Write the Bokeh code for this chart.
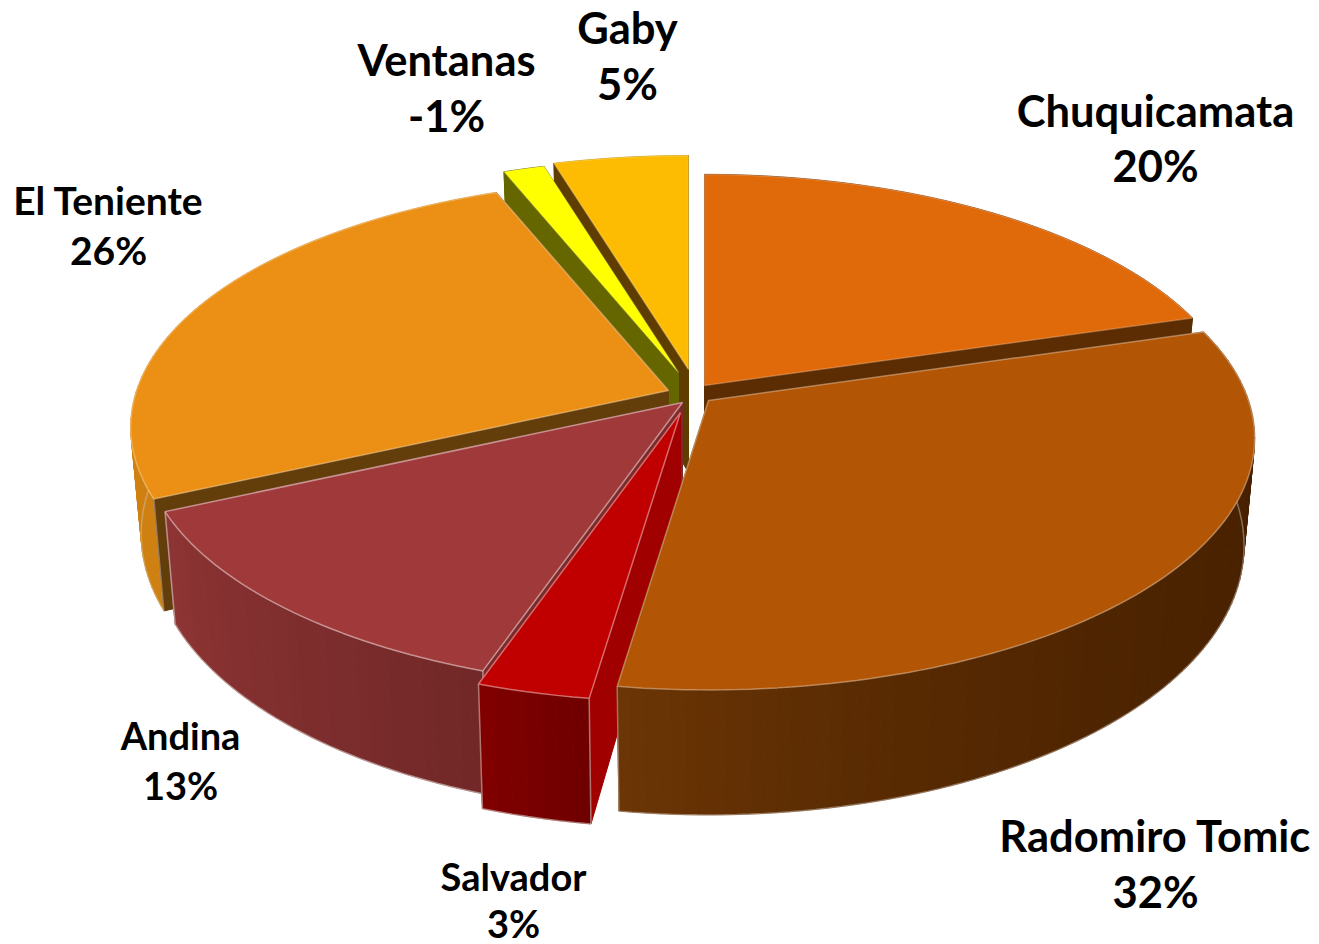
from bokeh.plotting import figure
from bokeh.models import ColumnDataSource, Range1d
from bokeh.core.properties import value
from bokeh.embed import file_html
from bokeh.resources import INLINE
import numpy as np

# ---- data
divisions = ["Chuquicamata", "Radomiro Tomic", "Salvador", "Andina", "El Teniente", "Ventanas", "Gaby"]
shares = [20.3, 32.0, 2.9, 12.9, 25.9, 1.4, 4.6]
share_labels = ["20%", "32%", "3%", "13%", "26%", "-1%", "5%"]

# ---- style
top_colors = ["#E0690A", "#B25606", "#C00000", "#A03A3A", "#EB9015", "#FFFF00", "#FDBB02"]
wall_start = ["#5C2C02", "#482100", "#700000", "#722828", "#CF8012", "#666600", "#B88A02"]
wall_end = ["#5C2C02", "#6B3505", "#800000", "#8E3434", "#CF8012", "#666600", "#B88A02"]
wall_power = [1, 3, 1, 1, 1, 1, 1]
radial_colors = ["#5C2C02", "#5C2C02", "#A00000", "#7A2A2A", "#633D0A", "#666600", "#5F3C00"]
edge_alpha = [0.35, 0.55, 0.7, 0.75, 0.5, 0.2, 0.35]
apex_x = [704, 708, 680, 682, 668, 678, 688]
apex_y = [385, 400, 412, 402, 390, 372, 369]
radius = [0.985, 1.0, 1.0, 0.99, 0.985, 1.0, 1.0]
draw_order = [6, 5, 0, 4, 3, 2, 1]
label_x = [1155, 1155, 513, 180, 108, 446, 627]
label_y = [109, 834, 875, 734, 199, 58, 26]
label_gap = [55, 56, 47, 50, 50, 56, 56]
label_px = [43.5, 43.5, 38, 38, 39, 43.5, 43.5]

A, B, K = 540.0, 246.0, 0.15


def hex2rgb(h):
    return np.array([int(h[i:i + 2], 16) for i in (1, 3, 5)], float)


def mix(c1, c2, t):
    r = hex2rgb(c1) * (1 - t) + hex2rgb(c2) * t
    return "#%02x%02x%02x" % tuple(int(round(x)) for x in r)


def rim(theta, ax, ay, s):
    u, v = s * np.sin(theta), s * np.cos(theta)
    d = 1 + K * v
    return ax + A * u / d, ay - B * v / d


def drop(x, y, cx):
    return x - 0.0195 * (x - cx), y + 104.8 + 0.0686 * (y - 395)


edges = np.cumsum([0] + shares) / sum(shares) * 2 * np.pi

p = figure(width=1319, height=944, output_backend="svg", toolbar_location=None,
           x_range=Range1d(0, 1319), y_range=Range1d(944, 0), min_border=0,
           outline_line_color=None, background_fill_color="white")
p.axis.visible = False
p.grid.visible = False

for i in draw_order:
    ax, ay = apex_x[i], apex_y[i]
    th = np.linspace(edges[i], edges[i + 1], max(8, int(shares[i] * 3)))
    rx, ry = rim(th, ax, ay, radius[i])
    bx, by = drop(rx, ry, ax)
    abx, aby = drop(np.array([ax], float), np.array([ay], float), ax)

    rad_x, rad_y, rad_c = [], [], []
    for j in (0, -1):
        rad_x.append([ax, rx[j], bx[j], abx[0]])
        rad_y.append([ay, ry[j], by[j], aby[0]])
        rad_c.append(radial_colors[i])

    out_x, out_y, out_c = [], [], []
    for j in range(len(th) - 1):
        t = (j / (len(th) - 2)) ** wall_power[i]
        out_x.append([rx[j], rx[j + 1], bx[j + 1], bx[j]])
        out_y.append([ry[j], ry[j + 1], by[j + 1], by[j]])
        out_c.append(mix(wall_start[i], wall_end[i], t))

    # back slices show their radial faces in front of the (hidden) outer wall
    mid = 0.5 * (edges[i] + edges[i + 1])
    if np.cos(mid) > 0:
        xs, ys, fills = out_x + rad_x, out_y + rad_y, out_c + rad_c
    else:
        xs, ys, fills = rad_x + out_x, rad_y + out_y, rad_c + out_c
    p.patches("xs", "ys", source=ColumnDataSource(dict(xs=xs, ys=ys, fill=fills)),
              fill_color="fill", line_color="fill", line_width=1)

    # outlines of the visible wall
    front = np.cos(th) < 0.1
    if front.any():
        p.line(list(bx[front]), list(by[front]), line_color="#D8D0C8",
               line_alpha=edge_alpha[i] * 0.8, line_width=1.5)
        for j in (0, -1):
            if front[j]:
                p.line([rx[j], bx[j]], [ry[j], by[j]], line_color="#D8D0C8",
                       line_alpha=edge_alpha[i] * 0.8, line_width=1.5)

    # top face with its light rim
    p.patch([ax] + list(rx), [ay] + list(ry), fill_color=top_colors[i],
            line_color=mix(top_colors[i], "#FFFFFF", 0.6), line_alpha=edge_alpha[i], line_width=1.5)

tx, ty, tt, ts = [], [], [], []
for i, name in enumerate(divisions):
    tx += [label_x[i], label_x[i]]
    ty += [label_y[i], label_y[i] + label_gap[i]]
    tt += [name, share_labels[i]]
    ts += [f"{label_px[i]}px"] * 2
p.text("x", "y", text="t", text_font_size="s", source=ColumnDataSource(dict(x=tx, y=ty, t=tt, s=ts)),
       text_font=value("Lato"), text_font_style="bold", text_color="#000000",
       text_align="center", text_baseline="middle")

open("out.html", "w").write(file_html(p, INLINE))
